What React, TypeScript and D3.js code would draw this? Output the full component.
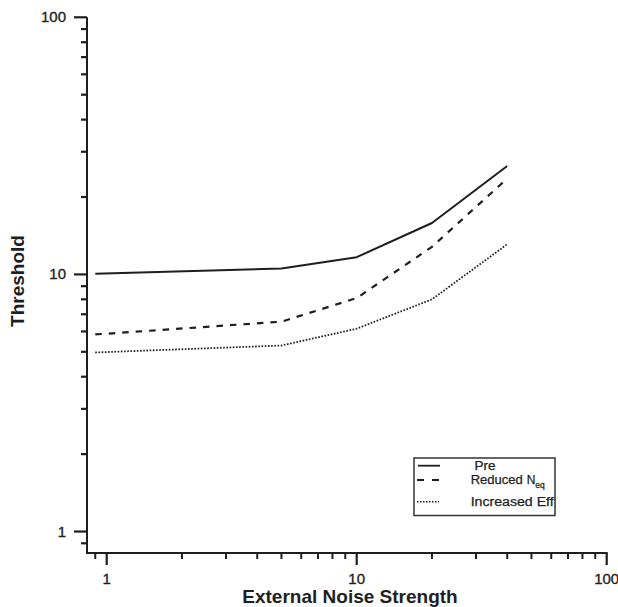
import React from "react";
import * as d3 from "d3";

const noiseLevels = [0.9, 5, 10, 20, 40];
const preThreshold = [10.06, 10.55, 11.67, 15.85, 26.4];
const reducedNeqThreshold = [5.84, 6.55, 8.09, 12.8, 23.6];
const increasedEffThreshold = [4.97, 5.29, 6.15, 8.0, 13.1];

const xMajorTicks = [1, 10, 100];
const yMajorTicks = [1, 10, 100];
const minorMultipliers = [2, 3, 4, 5, 6, 7, 8, 9];

const W = 618;
const H = 607;
const INK = "#1e1e1e";
const FONT = "'Liberation Sans', Arial, Helvetica, sans-serif";

export default function App() {
  const x = d3.scaleLog().domain([0.834, 100]).range([87, 606.7]);
  const y = d3.scaleLog().domain([0.825, 100]).range([553, 17.3]);

  const minorTicks: number[] = [0.9];
  [1, 10].forEach((d) => minorMultipliers.forEach((m) => minorTicks.push(d * m)));

  const line = d3
    .line<number>()
    .x((_, i) => x(noiseLevels[i]))
    .y((v) => y(v));

  const series = [
    { name: "Pre", values: preThreshold, dash: undefined as string | undefined, width: 2 },
    { name: "Reduced", values: reducedNeqThreshold, dash: "6.5,7", width: 2.2 },
    { name: "Increased Eff", values: increasedEffThreshold, dash: "1.6,1.6", width: 1.8 },
  ];

  const x0 = 87;
  const yBase = 553;

  return (
    <svg
      width={W}
      height={H}
      style={{ position: "absolute", left: 0, top: 0, background: "#fff" }}
      fontFamily={FONT}
    >
      <rect x={0} y={0} width={W} height={H} fill="#fff" />

      {/* Y axis */}
      <line x1={x0} x2={x0} y1={y(100)} y2={yBase} stroke={INK} strokeWidth={2} />
      {yMajorTicks.map((t) => (
        <g key={"ym" + t}>
          <line x1={74} x2={x0} y1={y(t)} y2={y(t)} stroke={INK} strokeWidth={2.2} />
          <text x={66} y={y(t) + 5} textAnchor="end" fontSize={15} fill={INK} stroke={INK} strokeWidth={0.35}>
            {t}
          </text>
        </g>
      ))}
      {minorTicks.map((t) => (
        <line key={"yn" + t} x1={81} x2={x0} y1={y(t)} y2={y(t)} stroke={INK} strokeWidth={2.2} />
      ))}

      {/* X axis */}
      <line x1={x0 - 1} x2={x(100) + 1} y1={yBase} y2={yBase} stroke={INK} strokeWidth={2} />
      {xMajorTicks.map((t) => (
        <g key={"xm" + t}>
          <line x1={x(t)} x2={x(t)} y1={yBase} y2={565} stroke={INK} strokeWidth={2.2} />
          <text x={x(t)} y={583.5} textAnchor="middle" fontSize={15} fill={INK} stroke={INK} strokeWidth={0.35}>
            {t}
          </text>
        </g>
      ))}
      {minorTicks.map((t) => (
        <line key={"xn" + t} x1={x(t)} x2={x(t)} y1={yBase} y2={559} stroke={INK} strokeWidth={2} />
      ))}

      {/* Axis titles */}
      <text x={350} y={603} textAnchor="middle" fontSize={19} fontWeight="bold" fill={INK}>
        External Noise Strength
      </text>
      <text
        transform="translate(24,281) rotate(-90)"
        textAnchor="middle"
        fontSize={19}
        fontWeight="bold"
        fill={INK}
      >
        Threshold
      </text>

      {/* Series */}
      {series.map((s) => (
        <path
          key={s.name}
          d={line(s.values) || ""}
          fill="none"
          stroke={INK}
          strokeWidth={s.width}
          strokeDasharray={s.dash}
          strokeLinejoin="round"
        />
      ))}

      {/* Legend */}
      <rect x={414} y={458} width={141} height={57.5} fill="#fff" stroke="#333" strokeWidth={1.5} />
      <line x1={418} x2={440} y1={465.7} y2={465.7} stroke={INK} strokeWidth={1.8} />
      <line x1={417} x2={440} y1={480} y2={480} stroke={INK} strokeWidth={1.8} strokeDasharray="7,8" />
      <line x1={417} x2={439} y1={501.7} y2={501.7} stroke={INK} strokeWidth={1.6} strokeDasharray="1.5,1.5" />
      <g fill={INK} stroke={INK} strokeWidth={0.25}>
        <text x={474.5} y={469.8} fontSize={12} textLength={21} lengthAdjust="spacingAndGlyphs">
          Pre
        </text>
        <text x={470.7} y={484.2} fontSize={12}>
          <tspan textLength={52} lengthAdjust="spacingAndGlyphs">Reduced</tspan>
          <tspan dx={4}>N</tspan>
          <tspan dy={4} fontSize={8.5}>eq</tspan>
        </text>
        <text x={470.7} y={506} fontSize={12} textLength={83} lengthAdjust="spacingAndGlyphs">
          Increased Eff
        </text>
      </g>
    </svg>
  );
}
